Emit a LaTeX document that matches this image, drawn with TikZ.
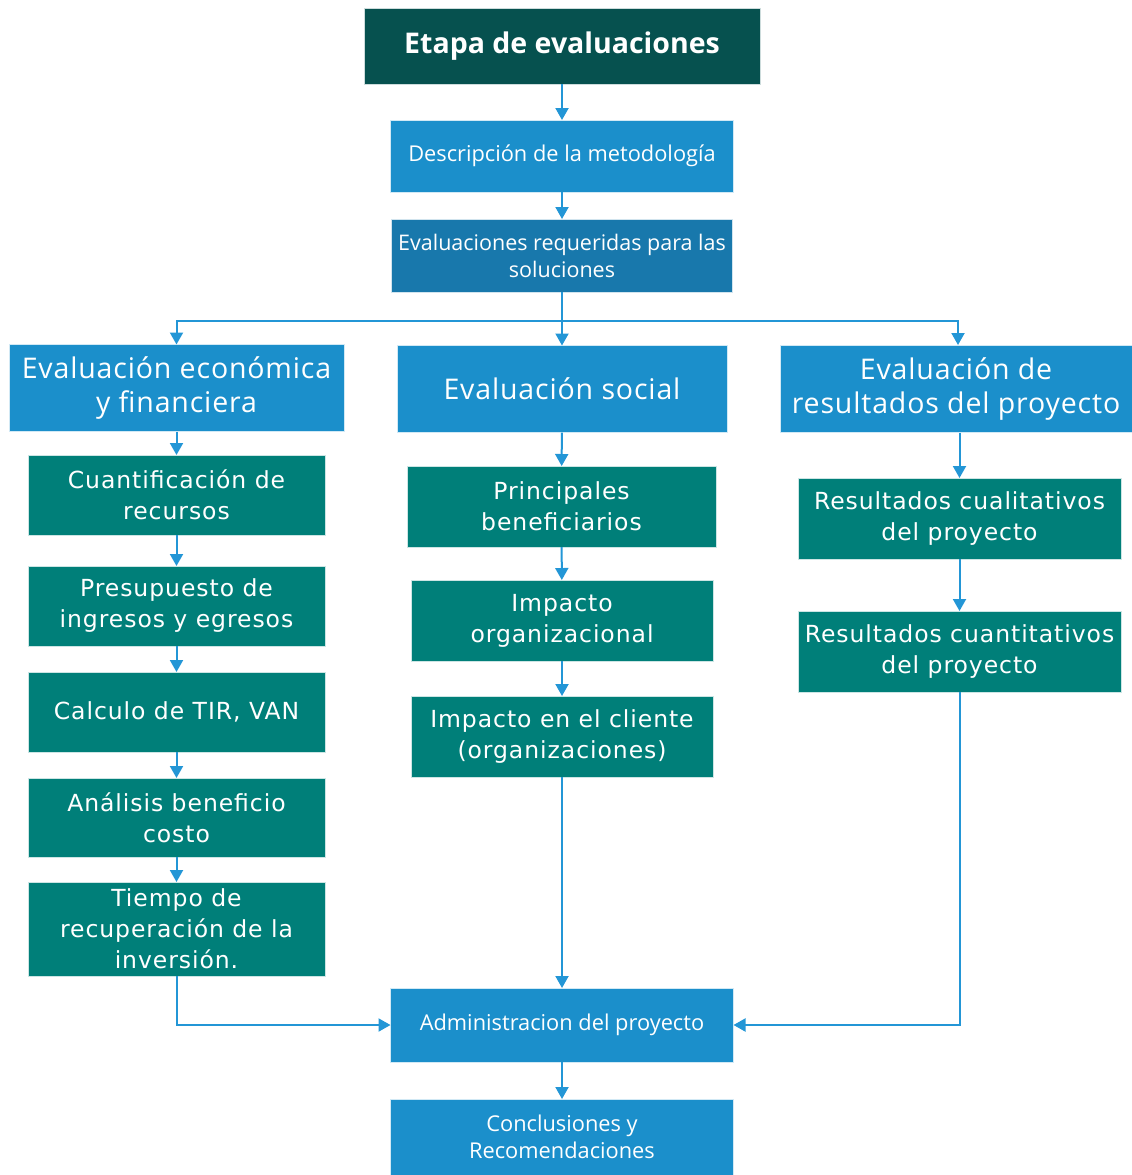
\documentclass[tikz,border=0pt]{standalone}
\usepackage{fontspec}
\setmainfont{Open Sans}
\newfontfamily\verdana{DejaVu Sans}[LetterSpace=4.0]
\newfontfamily\segoewide{Open Sans}[LetterSpace=3.0]
\usetikzlibrary{arrows.meta}

\definecolor{tealdark}{HTML}{06514F}
\definecolor{tealbox}{HTML}{007F79}
\definecolor{bluebox}{HTML}{1B8FCB}
\definecolor{bluedark}{HTML}{1878AC}
\definecolor{bluearrow}{HTML}{2396D6}

\tikzset{
	box/.style={rectangle, inner sep=0pt, outer sep=0pt, align=center, text=white, draw=white!80!#1, line width=0.6pt, fill=#1},
	titlebox/.style={box=tealdark, font=\fontsize{28.5}{30}\selectfont\bfseries},
	smallblue/.style={box=bluebox, minimum width=343pt, font=\fontsize{21.8}{27}\selectfont},
	headbox/.style={box=bluebox, minimum height=87pt, font=\segoewide\fontsize{28.5}{34}\selectfont},
	greenbox/.style={box=tealbox, minimum height=80pt, font=\verdana\fontsize{23.5}{31}\selectfont},
	flecha/.style={draw=bluearrow, line width=2pt, -{Triangle[width=13pt, length=12pt]}},
	linea/.style={draw=bluearrow, line width=2pt}
}

\begin{document}
\begin{tikzpicture}[x=1pt, y=-1pt]
	\useasboundingbox (0,0) rectangle (1132,1175);

	% top of the chart
	\node[titlebox, minimum width=396pt, minimum height=76pt] (etapa) at (562,46) {Etapa de evaluaciones};
	\node[smallblue, minimum height=72pt] (desc) at (562,156) {Descripción de la metodología};
	\node[smallblue, box=bluedark, minimum width=341pt, minimum height=73pt, font=\fontsize{21.5}{27}\selectfont] (req) at (562,255.5) {Evaluaciones requeridas para las\\soluciones};

	% the three evaluations
	\node[headbox, minimum width=335pt] (econ) at (176.5,388) {Evaluación económica\\y financiera};
	\node[headbox, minimum width=330pt] (social) at (562,389) {Evaluación social};
	\node[headbox, minimum width=352pt] (result) at (956,389) {Evaluación de\\resultados del proyecto};

	% left column
	\begin{scope}[every node/.append style={minimum width=297pt}]
		\node[greenbox] (cuant) at (176.5,495) {Cuantificación de\\recursos};
		\node[greenbox] (presup) at (176.5,606) {Presupuesto de\\ingresos y egresos};
		\node[greenbox] (tir) at (176.5,712) {Calculo de TIR, VAN};
		\node[greenbox, minimum height=79pt] (anal) at (176.5,817.5) {Análisis beneficio\\costo};
		\node[greenbox, minimum height=94pt] (tiempo) at (176.5,929) {Tiempo de\\recuperación de la\\inversión.};
	\end{scope}

	% middle column
	\node[greenbox, minimum width=309pt, minimum height=81pt] (benef) at (561.5,506.5) {Principales\\beneficiarios};
	\node[greenbox, minimum width=302pt, minimum height=81pt] (imporg) at (562,620.5) {Impacto\\organizacional};
	\node[greenbox, minimum width=302pt, minimum height=81pt] (impcli) at (562,736.5) {Impacto en el cliente\\(organizaciones)};

	% right column
	\node[greenbox, minimum width=323pt, minimum height=81pt] (cuali) at (959.5,518.5) {Resultados cualitativos\\del proyecto};
	\node[greenbox, minimum width=323pt, minimum height=81pt] (cuanti) at (959.5,651.5) {Resultados cuantitativos\\del proyecto};

	% bottom
	\node[smallblue, minimum height=74pt] (admin) at (562,1025) {Administracion del proyecto};
	\node[smallblue, minimum height=76pt] (concl) at (562,1137) {Conclusiones y\\Recomendaciones};

	% arrows
	\coordinate (bus) at (562,321);
	\draw[flecha] (etapa) -- (desc);
	\draw[flecha] (desc) -- (req);
	\draw[linea] (req) -- (bus);
	\draw[flecha] (bus) -| (econ);
	\draw[flecha] (bus) -- (social);
	\draw[flecha] (bus) -| (958,345);

	\draw[flecha] (econ) -- (cuant);
	\draw[flecha] (cuant) -- (presup);
	\draw[flecha] (presup) -- (tir);
	\draw[flecha] (tir) -- (anal);
	\draw[flecha] (anal) -- (tiempo);

	\draw[flecha] (social) -- (benef);
	\draw[flecha] (benef) -- (imporg);
	\draw[flecha] (imporg) -- (impcli);

	\draw[flecha] (result.south -| cuali) -- (cuali);
	\draw[flecha] (cuali) -- (cuanti);

	\draw[flecha] (tiempo) |- (admin);
	\draw[flecha] (impcli) -- (admin);
	\draw[flecha] (cuanti) |- (admin);
	\draw[flecha] (admin) -- (concl);
\end{tikzpicture}
\end{document}
